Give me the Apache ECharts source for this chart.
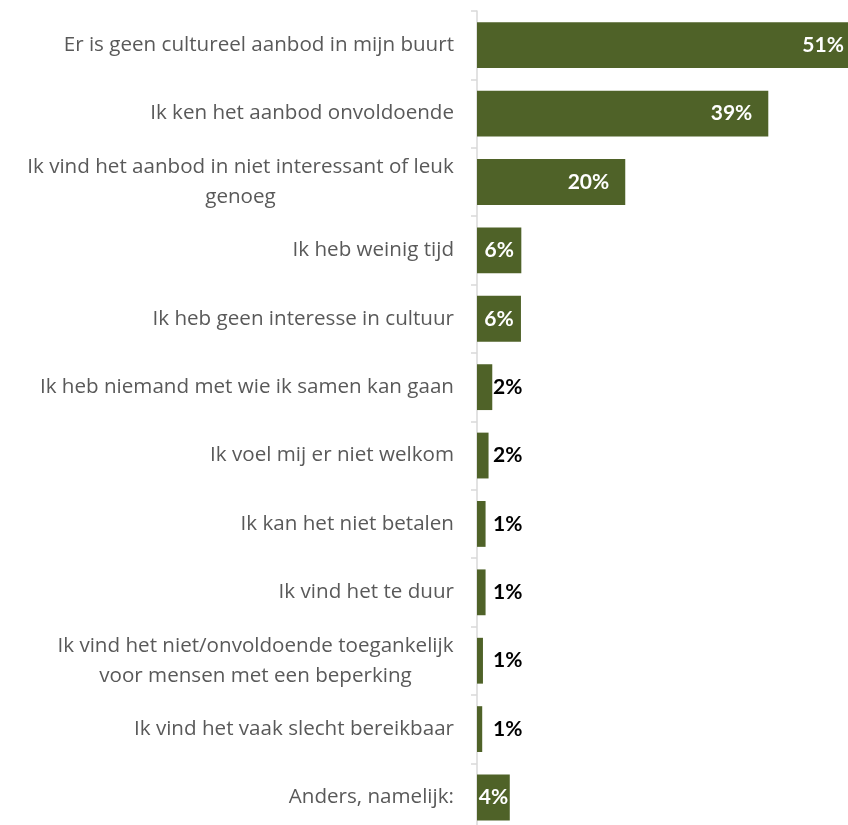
<!DOCTYPE html>
<html>
<head>
<meta charset="utf-8">
<script src="https://cdn.jsdelivr.net/npm/echarts@6/dist/echarts.min.js"></script>
<style>
html,body{margin:0;padding:0;background:#fff;}
#chart{width:848px;height:825px;}
</style>
</head>
<body>
<div id="chart"></div>
<script>
var categories = [
  "Er is geen cultureel aanbod in mijn buurt",
  "Ik ken het aanbod onvoldoende",
  "Ik vind het aanbod in niet interessant of leuk genoeg",
  "Ik heb weinig tijd",
  "Ik heb geen interesse in cultuur",
  "Ik heb niemand met wie ik samen kan gaan",
  "Ik voel mij er niet welkom",
  "Ik kan het niet betalen",
  "Ik vind het te duur",
  "Ik vind het niet/onvoldoende toegankelijk voor mensen met een beperking",
  "Ik vind het vaak slecht bereikbaar",
  "Anders, namelijk:"
];
var values = [51.4, 39.1, 19.9, 5.95, 5.9, 2.05, 1.55, 1.15, 1.15, 0.8, 0.7, 4.4];

var barColor = '#4F6228';
var catFont = '"Open Sans", sans-serif';
var catSize = 20.6;
var catColor = '#595959';
var valFont = 'Lato, "Open Sans", sans-serif';
var wrapWidth = 440;

var measureCtx = document.createElement('canvas').getContext('2d');
measureCtx.font = catSize + 'px ' + catFont;
function wrapLines(text) {
  var words = text.split(' ');
  var lines = [];
  var cur = '';
  words.forEach(function (w) {
    var test = cur ? cur + ' ' + w : w;
    if (cur && measureCtx.measureText(test).width > wrapWidth) {
      lines.push(cur);
      cur = w;
    } else {
      cur = test;
    }
  });
  if (cur) lines.push(cur);
  return lines;
}

var wrapped = categories.map(wrapLines);
var rich = {};
wrapped.forEach(function (lines, i) {
  if (lines.length > 1) {
    var maxW = Math.max.apply(null, lines.map(function (l) { return measureCtx.measureText(l).width; }));
    rich['w' + i] = {
      width: Math.ceil(maxW),
      align: 'center',
      fontFamily: catFont,
      fontSize: catSize,
      color: catColor,
      lineHeight: 30
    };
  }
});

function labelFor(v) {
  var base = {
    show: true,
    fontFamily: valFont,
    fontWeight: 'bold',
    fontSize: 21,
    formatter: function (p) { return Math.round(p.value) + '%'; }
  };
  if (v >= 10) {
    base.position = 'insideRight';
    base.distance = 16;
    base.color = '#ffffff';
  } else if (v >= 3) {
    base.position = 'inside';
    base.color = '#ffffff';
  } else {
    base.position = [16, '50%'];
    base.align = 'left';
    base.verticalAlign = 'middle';
    base.color = '#000000';
  }
  return base;
}

var chart = echarts.init(document.getElementById('chart'), null, {renderer: 'canvas'});
chart.setOption({
  animation: false,
  backgroundColor: '#ffffff',
  grid: { left: 477, top: 11, width: 447, height: 820.7, outerBoundsMode: 'none', containLabel: false },
  xAxis: {
    type: 'value', min: 0, max: 60,
    show: false
  },
  yAxis: {
    type: 'category',
    inverse: true,
    data: categories,
    axisLine: { show: true, lineStyle: { color: '#D9D9D9', width: 1.5 } },
    axisTick: { show: true, length: 6, lineStyle: { color: '#D9D9D9', width: 1.5 } },
    axisLabel: {
      color: catColor,
      fontFamily: catFont,
      fontSize: catSize,
      margin: 23,
      lineHeight: 30,
      align: 'right',
      rich: rich,
      formatter: function (v, i) {
        var lines = wrapped[i];
        if (lines.length === 1) return lines[0];
        return lines.map(function (l) { return '{w' + i + '|' + l + '}'; }).join('\n');
      }
    },
    splitLine: { show: false }
  },
  series: [{
    type: 'bar',
    barCategoryGap: '33%',
    itemStyle: { color: barColor },
    data: values.map(function (v) {
      return { value: v, label: labelFor(v) };
    })
  }]
});
</script>
</body>
</html>
